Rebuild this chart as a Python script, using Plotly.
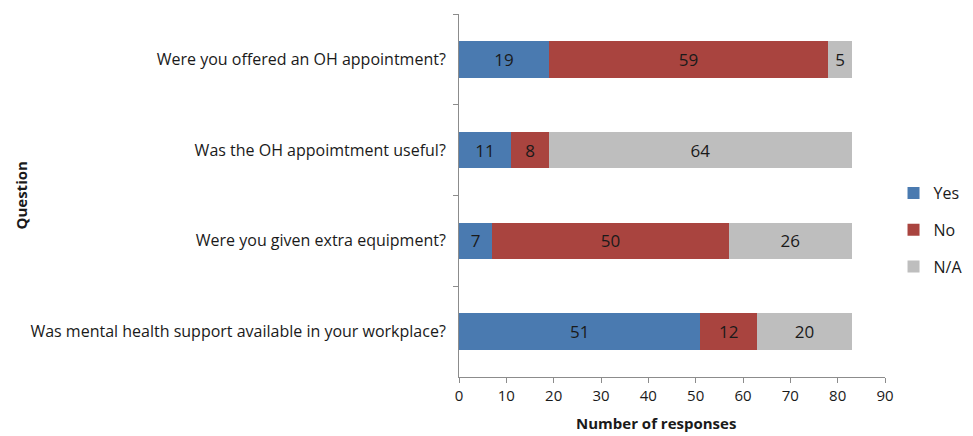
import plotly.graph_objects as go

questions = [
    "Were you offered an OH appointment?",
    "Was the OH appoimtment useful?",
    "Were you given extra equipment?",
    "Was mental health support available in your workplace?",
]
yes_counts = [19, 11, 7, 51]
no_counts = [59, 8, 50, 12]
na_counts = [5, 64, 26, 20]
x_ticks = [0, 10, 20, 30, 40, 50, 60, 70, 80, 90]

FONT = "Open Sans"
TEXT = "#1a1a1a"
AXIS = "#8c8c8c"
series = [
    ("Yes", yes_counts, "#4A7AB0"),
    ("No", no_counts, "#A9443F"),
    ("N/A", na_counts, "#BEBEBE"),
]

fig = go.Figure()
for name, vals, color in series:
    fig.add_trace(go.Bar(
        y=questions,
        x=vals,
        name=name,
        orientation="h",
        marker=dict(color=color, line=dict(width=0)),
        width=0.4,
        text=[str(v) for v in vals],
        textposition="inside",
        insidetextanchor="middle",
        textangle=0,
        constraintext="none",
        textfont=dict(family=FONT, size=17, color=TEXT),
        legendgroup=name,
    ))

fig.update_layout(
    barmode="stack",
    width=973,
    height=436,
    margin=dict(l=459, r=88, t=14, b=59, autoexpand=False),
    plot_bgcolor="white",
    paper_bgcolor="white",
    font=dict(family=FONT, size=15, color=TEXT),
    legend=dict(
        x=1.02, y=0.405, yanchor="middle", xanchor="left",
        font=dict(family=FONT, size=16, color=TEXT),
        tracegroupgap=13,
        itemwidth=30,
    ),
    xaxis=dict(
        range=[0, 90],
        tickvals=x_ticks,
        ticktext=[str(t) for t in x_ticks],
        ticks="outside",
        ticklen=5,
        tickcolor=AXIS,
        showline=True,
        linecolor=AXIS,
        linewidth=1,
        showgrid=False,
        zeroline=False,
        tickfont=dict(family=FONT, size=15),
    ),
    yaxis=dict(
        categoryorder="array",
        categoryarray=questions,
        autorange="reversed",
        ticks="outside",
        tickson="boundaries",
        ticklen=5,
        tickcolor=AXIS,
        showline=True,
        linecolor=AXIS,
        linewidth=1,
        showgrid=False,
        zeroline=False,
        tickfont=dict(family=FONT, size=16),
        ticklabelstandoff=9,
    ),
)

# Axis titles
fig.add_annotation(
    text="<b>Number of responses</b>",
    xref="paper", yref="paper", x=0.462, xanchor="center", y=0, yanchor="middle",
    yshift=-46, showarrow=False,
    font=dict(family=FONT, size=15, color=TEXT),
)
fig.add_annotation(
    text="<b>Question</b>", textangle=-90,
    xref="paper", yref="paper", x=0, xanchor="left", y=0.5, yanchor="middle",
    xshift=-459 + 8, showarrow=False,
    font=dict(family=FONT, size=15, color=TEXT),
)

fig.write_html("out.html")
